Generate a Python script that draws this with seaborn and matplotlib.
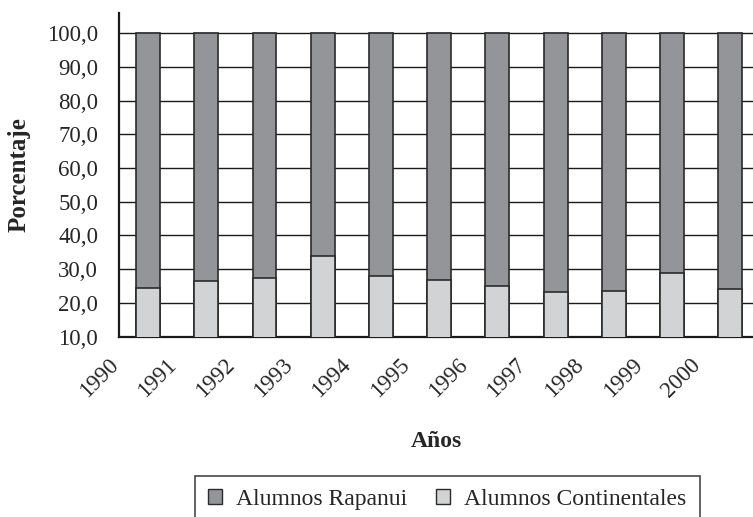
import numpy as np
import pandas as pd
import seaborn as sns
import matplotlib.pyplot as plt
from matplotlib.patches import Patch

# Datos
anios = [1990, 1991, 1992, 1993, 1994, 1995, 1996, 1997, 1998, 1999, 2000]
continentales = [24.5, 26.5, 27.3, 33.8, 27.9, 26.7, 25.0, 23.2, 23.4, 28.8, 24.2]
rapanui = [100 - c for c in continentales]
yticks = [10, 20, 30, 40, 50, 60, 70, 80, 90, 100]

df = pd.DataFrame({'anio': [a + 0.5 for a in anios],
                   'continentales': continentales,
                   'rapanui': rapanui})
df['total'] = df['continentales'] + df['rapanui']

sns.set_style('white')
plt.rcParams['font.family'] = ['Liberation Serif', 'DejaVu Serif']

oscuro = '#939598'
claro = '#d1d3d4'
borde = '#2b2b2b'

fig = plt.figure(figsize=(7.53, 5.17), dpi=100)
ax = fig.add_axes([0.158, 0.349, 0.842, 0.626])

for v in yticks:
    ax.axhline(v, color='#1a1a1a', lw=1.0, zorder=0)

sns.barplot(data=df, x='anio', y='total', native_scale=True, width=0.41,
            color=oscuro, saturation=1, edgecolor=borde, linewidth=1.2, ax=ax, zorder=2)
sns.barplot(data=df, x='anio', y='continentales', native_scale=True, width=0.41,
            color=claro, saturation=1, edgecolor=borde, linewidth=1.2, ax=ax, zorder=3)

ax.set_xlim(1990, 1990 + 10.89)
ax.set_ylim(10, 106)
ax.set_yticks(yticks)
ax.set_yticklabels([f'{v:.1f}'.replace('.', ',') for v in yticks], fontsize=16.5)
ax.set_xticks(anios)
ax.set_xticklabels([str(a) for a in anios], rotation=45, ha='right', va='baseline',
                   rotation_mode='anchor', fontsize=16.5)

for s in ['top', 'right']:
    ax.spines[s].set_visible(False)
for s in ['left', 'bottom']:
    ax.spines[s].set_color('#1a1a1a')
    ax.spines[s].set_linewidth(1.6)
ax.tick_params(axis='both', direction='out', length=7, width=1.2, color='#1a1a1a')
ax.tick_params(axis='y', pad=8)
ax.tick_params(axis='x', pad=14)

ax.set_xlabel('Años', fontsize=17, fontweight='bold', labelpad=21)
ax.set_ylabel('Porcentaje', fontsize=18, fontweight='bold')
ax.yaxis.set_label_coords(-0.14, 0.5)

handles = [Patch(facecolor=oscuro, edgecolor=borde, linewidth=1.0, label='Alumnos Rapanui'),
           Patch(facecolor=claro, edgecolor=borde, linewidth=1.0, label='Alumnos Continentales')]
leg = fig.legend(handles=handles, loc='upper center', bbox_to_anchor=(0.594, 0.079), ncol=2,
                 fontsize=17, frameon=True, fancybox=False, handlelength=0.6, handleheight=0.6,
                 handletextpad=0.6, columnspacing=1.2, borderpad=0.55, borderaxespad=0)
leg.get_frame().set_edgecolor('#1a1a1a')
leg.get_frame().set_linewidth(1.2)

fig.savefig('out.png', dpi=100)
